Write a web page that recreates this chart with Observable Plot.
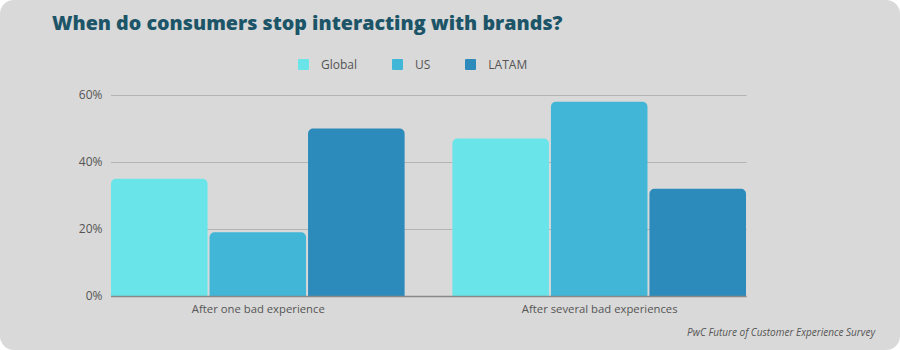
<!DOCTYPE html>
<html>
<head>
<meta charset="utf-8">
<script src="https://cdn.jsdelivr.net/npm/d3@7"></script>
<script src="https://cdn.jsdelivr.net/npm/@observablehq/plot@0.6"></script>
<style>
  html, body { margin: 0; padding: 0; background: #ffffff; }
  #card {
    position: relative; width: 900px; height: 350px;
    background: #d9d9d9; border-radius: 14px; overflow: hidden;
    font-family: "Open Sans", sans-serif;
  }
  #title {
    position: absolute; left: 52px; top: 9px; margin: 0;
    font-size: 19.7px; font-weight: 800; color: #1d5568; white-space: nowrap;
  }
  #legend {
    position: absolute; left: 298px; top: 56px; height: 16px;
    display: flex; align-items: center; gap: 35px;
    font-size: 12px; color: #555;
  }
  #legend .item { display: flex; align-items: center; gap: 12px; }
  #legend .sw { width: 11px; height: 11px; border-radius: 1px; }
  #chart { position: absolute; left: 0; top: 80px; }
  #caption {
    position: absolute; right: 25px; top: 325px;
    font-size: 10px; font-style: italic; color: #555;
  }
</style>
</head>
<body>
<div id="card">
  <h2 id="title">When do consumers stop interacting with brands?</h2>
  <div id="legend"></div>
  <div id="chart"></div>
  <div id="caption">PwC Future of Customer Experience Survey</div>
</div>
<script>
const categories = ["After one bad experience", "After several bad experiences"];
const series = ["Global", "US", "LATAM"];
const colors = ["#69e5e9", "#41b6d6", "#2c8bba"];
const globalValues = [35, 47];
const usValues = [19, 58];
const latamValues = [50, 32];
const yTicks = [0, 20, 40, 60];

const valuesBySeries = [globalValues, usValues, latamValues];
const data = [];
categories.forEach((c, i) => {
  series.forEach((s, j) => data.push({category: c, series: s, value: valuesBySeries[j][i]}));
});
// gridlines drawn in the first facet, stretched across the gap and the second facet
const gridRows = yTicks.slice(1).map(v => ({category: categories[0], value: v}));
const baseRows = [{category: categories[0], value: 0}];

// legend
const legend = d3.select("#legend");
series.forEach((s, j) => {
  const it = legend.append("div").attr("class", "item");
  it.append("div").attr("class", "sw").style("background", colors[j]);
  it.append("span").text(s);
});

const chart = Plot.plot({
  width: 900,
  height: 250,
  marginLeft: 111,
  marginRight: 154,
  marginTop: 15,
  marginBottom: 34,
  style: {fontFamily: "Open Sans, sans-serif", fontSize: "12px", color: "#555", background: "transparent"},
  fx: {domain: categories, paddingInner: 0.14, paddingOuter: 0, round: false, label: null, axis: "bottom", tickSize: 0, tickPadding: 8},
  x: {domain: series, paddingInner: 0.02, paddingOuter: 0, round: false, axis: null},
  y: {domain: [0, 60], ticks: yTicks, tickFormat: d => d + "%", label: null, tickSize: 0, tickPadding: 9},
  color: {domain: series, range: colors},
  marks: [
    Plot.ruleY(gridRows, {fx: "category", y: "value", stroke: "#b3b3b3", strokeWidth: 1.2, insetRight: -342}),
    Plot.barY(data, {fx: "category", x: "series", y: "value", fill: "series", ry1: 5}),
    Plot.ruleY(baseRows, {fx: "category", y: "value", stroke: "#888", strokeWidth: 1.5, insetRight: -342})
  ]
});
document.getElementById("chart").append(chart);
d3.select(chart).selectAll("g[aria-label='fx-axis tick label'] text").style("font-size", "11.3px");
</script>
</body>
</html>
